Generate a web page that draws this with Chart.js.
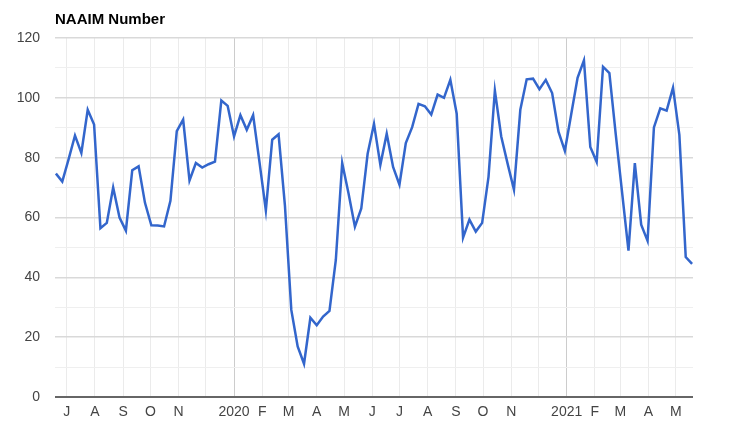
<!DOCTYPE html>
<html>
<head>
<meta charset="utf-8">
<script src="https://cdn.jsdelivr.net/npm/chart.js@4.4.1/dist/chart.umd.min.js"></script>
<style>
  html, body { margin: 0; padding: 0; background: #fff; }
  #wrap { width: 747px; height: 441px; }
</style>
</head>
<body>
<div id="wrap"><canvas id="naaimChart" width="747" height="441"></canvas></div>
<script>
const chartTitle = 'NAAIM Number';

// weekly readings, first one on this date, one per week after
const firstWeek = '2019-06-19';
const naaimValues = [
    74.7, 72.0, 79.5, 87.4, 81.6, 96.0, 91.1, 56.4, 58.2, 70.0,
    60.0, 55.6, 75.8, 77.1, 64.9, 57.4, 57.3, 57.0, 65.6, 88.9,
    92.7, 72.4, 78.2, 76.7, 77.8, 78.7, 99.1, 97.3, 87.1, 94.2,
    89.3, 94.2, 78.5, 62.4, 86.0, 87.8, 64.0, 29.1, 16.9, 11.1,
    26.5, 24.0, 26.9, 28.8, 45.8, 78.2, 68.0, 56.9, 63.0, 81.3,
    91.3, 77.6, 88.0, 76.9, 71.0, 84.9, 90.2, 98.0, 97.2, 94.4,
    101.1, 100.0, 106.0, 94.7, 53.3, 59.3, 55.3, 58.2, 73.6, 102.4,
    87.1, 78.0, 69.3, 96.0, 106.2, 106.4, 102.9, 106.0, 101.6, 88.7,
    82.3, 94.5, 106.7, 112.5, 83.6, 78.6, 110.4, 108.3, 87.8, 68.3,
    48.9, 78.2, 57.6, 52.2, 90.1, 96.5, 95.7, 103.4, 87.6, 46.8,
    44.5
];

// month gridlines and their labels (December has no label)
const monthStarts = [
    '2019-07-01', '2019-08-01', '2019-09-01', '2019-10-01', '2019-11-01', '2019-12-01',
    '2020-01-01', '2020-02-01', '2020-03-01', '2020-04-01', '2020-05-01', '2020-06-01',
    '2020-07-01', '2020-08-01', '2020-09-01', '2020-10-01', '2020-11-01', '2020-12-01',
    '2021-01-01', '2021-02-01', '2021-03-01', '2021-04-01', '2021-05-01'
];
const monthLabels = [
    'J', 'A', 'S', 'O', 'N', '',
    '2020', 'F', 'M', 'A', 'M', 'J',
    'J', 'A', 'S', 'O', 'N', '',
    '2021', 'F', 'M', 'A', 'M'
];

const yTicks = [0, 20, 40, 60, 80, 100, 120];

const DAY = 86400000;
const t0 = Date.parse(firstWeek);
const dayOf = (s) => Math.round((Date.parse(s) - t0) / DAY);

const points = naaimValues.map((v, i) => ({ x: i * 7, y: v }));
const monthDays = monthStarts.map(dayOf);
const labelByDay = {};
monthDays.forEach((d, i) => { labelByDay[d] = monthLabels[i]; });
const yearDays = monthStarts.filter(s => s.endsWith('-01-01')).map(dayOf);

const titlePlugin = {
    id: 'titleText',
    afterDraw(chart) {
        const ctx = chart.ctx;
        ctx.save();
        ctx.font = 'bold 15px "Liberation Sans", Arial, sans-serif';
        ctx.fillStyle = '#000';
        ctx.textBaseline = 'alphabetic';
        ctx.textAlign = 'left';
        ctx.fillText(chartTitle, chart.chartArea.left, 24);
        ctx.restore();
    }
};

const baselinePlugin = {
    id: 'baseline',
    afterDatasetsDraw(chart) {
        const ctx = chart.ctx;
        const a = chart.chartArea;
        const y = chart.scales.y.getPixelForValue(0);
        ctx.save();
        ctx.strokeStyle = '#666';
        ctx.lineWidth = 2;
        ctx.beginPath();
        ctx.moveTo(a.left, y);
        ctx.lineTo(a.right, y);
        ctx.stroke();
        ctx.restore();
    }
};

new Chart(document.getElementById('naaimChart'), {
    type: 'line',
    data: {
        datasets: [{
            label: chartTitle,
            data: points,
            borderColor: '#3366cc',
            borderWidth: 2.5,
            pointRadius: 0,
            tension: 0,
            fill: false
        }]
    },
    options: {
        responsive: false,
        animation: false,
        layout: { padding: { top: 38, right: 54, left: 0, bottom: 0 } },
        plugins: {
            legend: { display: false },
            tooltip: { enabled: false }
        },
        scales: {
            x: {
                type: 'linear',
                min: -1,
                max: 701,
                afterBuildTicks: (scale) => {
                    scale.ticks = monthDays.map(d => ({ value: d }));
                },
                afterFit: (scale) => { scale.height = 44; },
                ticks: {
                    autoSkip: false,
                    maxRotation: 0,
                    padding: 7,
                    color: '#444',
                    font: { family: '"Liberation Sans", Arial, sans-serif', size: 14 },
                    callback: (v) => labelByDay[v] !== undefined ? labelByDay[v] : ''
                },
                grid: {
                    drawTicks: false,
                    color: (c) => yearDays.includes(c.tick && c.tick.value) ? '#cccccc' : '#ebebeb',
                    lineWidth: 1
                },
                border: { display: false }
            },
            y: {
                min: 0,
                max: 120,
                afterBuildTicks: (scale) => {
                    const t = [];
                    for (let i = 0; i < yTicks.length; i++) {
                        t.push({ value: yTicks[i] });
                        if (i < yTicks.length - 1) t.push({ value: (yTicks[i] + yTicks[i + 1]) / 2 });
                    }
                    scale.ticks = t;
                },
                afterFit: (scale) => { scale.width = 55; },
                ticks: {
                    autoSkip: false,
                    padding: 15,
                    color: '#444',
                    font: { family: '"Liberation Sans", Arial, sans-serif', size: 14 },
                    callback: (v) => yTicks.includes(v) ? String(v) : ''
                },
                grid: {
                    drawTicks: false,
                    color: (c) => (c.tick && yTicks.includes(c.tick.value)) ? '#d9d9d9' : '#efefef',
                    lineWidth: (c) => (c.tick && yTicks.includes(c.tick.value)) ? 1.5 : 1
                },
                border: { display: false }
            }
        }
    },
    plugins: [titlePlugin, baselinePlugin]
});
</script>
</body>
</html>
